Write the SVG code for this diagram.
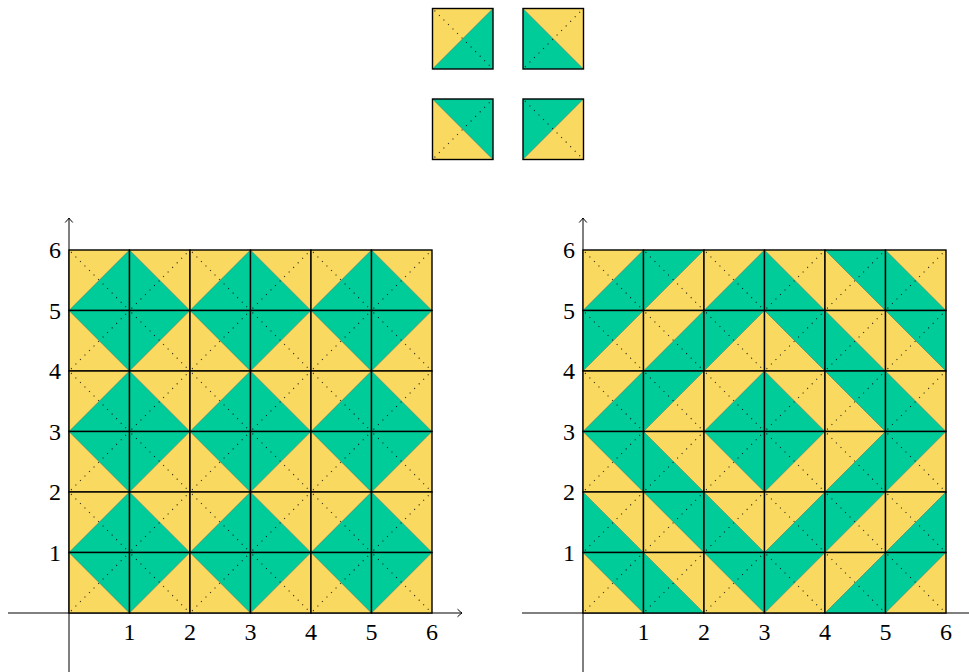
<svg xmlns="http://www.w3.org/2000/svg" width="969" height="672" viewBox="0 0 969 672">
<style>
.y{fill:#F9D960}
.g{fill:#00CC99}
.bd{stroke:#1a4d3a;stroke-width:0.6;stroke-opacity:0.7}
.dot{stroke:#000;stroke-width:1.1;stroke-dasharray:1.1 5.3;stroke-opacity:0.8}
.bx{fill:none;stroke:#000;stroke-width:1.4}
.ax{stroke:#000;stroke-width:1;fill:none}
.lb{font-family:"Liberation Serif","DejaVu Serif",serif;font-size:24px;fill:#000}
.xl{text-anchor:middle}
.yl{text-anchor:end}
</style>
<defs>
<marker id="arr" viewBox="-6 -5 8 10" markerWidth="8" markerHeight="10" refX="0" refY="0" orient="auto" markerUnits="userSpaceOnUse">
<path d="M -4.5 -3.8 Q -1.5 -1 0 0 Q -1.5 1 -4.5 3.8" fill="none" stroke="#000" stroke-width="1"/>
</marker>
<g id="BR"><polygon class="y" points="0,0 60.5,0 0,60.5"/><polygon class="g" points="60.5,0 60.5,60.5 0,60.5"/><line class="bd" x1="0" y1="60.5" x2="60.5" y2="0"/><line class="dot" x1="2" y1="2" x2="60.5" y2="60.5"/><rect class="bx" width="60.5" height="60.5"/></g>
<g id="TL"><polygon class="g" points="0,0 60.5,0 0,60.5"/><polygon class="y" points="60.5,0 60.5,60.5 0,60.5"/><line class="bd" x1="0" y1="60.5" x2="60.5" y2="0"/><line class="dot" x1="2" y1="2" x2="60.5" y2="60.5"/><rect class="bx" width="60.5" height="60.5"/></g>
<g id="BL"><polygon class="g" points="0,0 0,60.5 60.5,60.5"/><polygon class="y" points="0,0 60.5,0 60.5,60.5"/><line class="bd" x1="0" y1="0" x2="60.5" y2="60.5"/><line class="dot" x1="2" y1="58.5" x2="60.5" y2="0"/><rect class="bx" width="60.5" height="60.5"/></g>
<g id="TR"><polygon class="y" points="0,0 0,60.5 60.5,60.5"/><polygon class="g" points="0,0 60.5,0 60.5,60.5"/><line class="bd" x1="0" y1="0" x2="60.5" y2="60.5"/><line class="dot" x1="2" y1="58.5" x2="60.5" y2="0"/><rect class="bx" width="60.5" height="60.5"/></g>
</defs>

<g id="legend">
<use href="#BR" x="432.5" y="8.5"/>
<use href="#BL" x="523" y="8.5"/>
<use href="#TR" x="432.5" y="99"/>
<use href="#TL" x="523" y="99"/>
</g>

<g id="left-axes">
<line class="ax" x1="8" y1="613" x2="462" y2="613" marker-end="url(#arr)"/>
<line class="ax" x1="69" y1="672" x2="69" y2="218" marker-end="url(#arr)"/>
</g>
<g id="left-grid">
<use href="#BR" x="69" y="250"/><use href="#BL" x="129.5" y="250"/><use href="#BR" x="190" y="250"/><use href="#BL" x="250.5" y="250"/><use href="#BR" x="311" y="250"/><use href="#BL" x="371.5" y="250"/>
<use href="#TR" x="69" y="310.5"/><use href="#TL" x="129.5" y="310.5"/><use href="#TR" x="190" y="310.5"/><use href="#TL" x="250.5" y="310.5"/><use href="#TR" x="311" y="310.5"/><use href="#TL" x="371.5" y="310.5"/>
<use href="#BR" x="69" y="371"/><use href="#BL" x="129.5" y="371"/><use href="#BR" x="190" y="371"/><use href="#BL" x="250.5" y="371"/><use href="#BR" x="311" y="371"/><use href="#BL" x="371.5" y="371"/>
<use href="#TR" x="69" y="431.5"/><use href="#TL" x="129.5" y="431.5"/><use href="#TR" x="190" y="431.5"/><use href="#TL" x="250.5" y="431.5"/><use href="#TR" x="311" y="431.5"/><use href="#TL" x="371.5" y="431.5"/>
<use href="#BR" x="69" y="492"/><use href="#BL" x="129.5" y="492"/><use href="#BR" x="190" y="492"/><use href="#BL" x="250.5" y="492"/><use href="#BR" x="311" y="492"/><use href="#BL" x="371.5" y="492"/>
<use href="#TR" x="69" y="552.5"/><use href="#TL" x="129.5" y="552.5"/><use href="#TR" x="190" y="552.5"/><use href="#TL" x="250.5" y="552.5"/><use href="#TR" x="311" y="552.5"/><use href="#TL" x="371.5" y="552.5"/>
</g>
<g id="left-labels" class="lb">
<text class="xl" x="129.5" y="640">1</text><text class="xl" x="190" y="640">2</text><text class="xl" x="250.5" y="640">3</text><text class="xl" x="311" y="640">4</text><text class="xl" x="371.5" y="640">5</text><text class="xl" x="432" y="640">6</text>
<text class="yl" x="61" y="560.5">1</text><text class="yl" x="61" y="500">2</text><text class="yl" x="61" y="439.5">3</text><text class="yl" x="61" y="379">4</text><text class="yl" x="61" y="318.5">5</text><text class="yl" x="61" y="258">6</text>
</g>

<g id="right-axes">
<line class="ax" x1="522" y1="613" x2="975" y2="613" marker-end="url(#arr)"/>
<line class="ax" x1="583" y1="672" x2="583" y2="218" marker-end="url(#arr)"/>
</g>
<g id="right-grid">
<use href="#BR" x="583" y="250"/><use href="#TL" x="643.5" y="250"/><use href="#BR" x="704" y="250"/><use href="#BL" x="764.5" y="250"/><use href="#TR" x="825" y="250"/><use href="#BL" x="885.5" y="250"/>
<use href="#TL" x="583" y="310.5"/><use href="#BR" x="643.5" y="310.5"/><use href="#TL" x="704" y="310.5"/><use href="#TR" x="764.5" y="310.5"/><use href="#BL" x="825" y="310.5"/><use href="#TR" x="885.5" y="310.5"/>
<use href="#BR" x="583" y="371"/><use href="#TL" x="643.5" y="371"/><use href="#BR" x="704" y="371"/><use href="#BL" x="764.5" y="371"/><use href="#TR" x="825" y="371"/><use href="#BL" x="885.5" y="371"/>
<use href="#TR" x="583" y="431.5"/><use href="#BL" x="643.5" y="431.5"/><use href="#TR" x="704" y="431.5"/><use href="#TL" x="764.5" y="431.5"/><use href="#BR" x="825" y="431.5"/><use href="#TL" x="885.5" y="431.5"/>
<use href="#BL" x="583" y="492"/><use href="#TR" x="643.5" y="492"/><use href="#BL" x="704" y="492"/><use href="#BR" x="764.5" y="492"/><use href="#TL" x="825" y="492"/><use href="#BR" x="885.5" y="492"/>
<use href="#TR" x="583" y="552.5"/><use href="#BL" x="643.5" y="552.5"/><use href="#TR" x="704" y="552.5"/><use href="#TL" x="764.5" y="552.5"/><use href="#BR" x="825" y="552.5"/><use href="#TL" x="885.5" y="552.5"/>
</g>
<g id="right-labels" class="lb">
<text class="xl" x="643.5" y="640">1</text><text class="xl" x="704" y="640">2</text><text class="xl" x="764.5" y="640">3</text><text class="xl" x="825" y="640">4</text><text class="xl" x="885.5" y="640">5</text><text class="xl" x="946" y="640">6</text>
<text class="yl" x="575" y="560.5">1</text><text class="yl" x="575" y="500">2</text><text class="yl" x="575" y="439.5">3</text><text class="yl" x="575" y="379">4</text><text class="yl" x="575" y="318.5">5</text><text class="yl" x="575" y="258">6</text>
</g>
</svg>
